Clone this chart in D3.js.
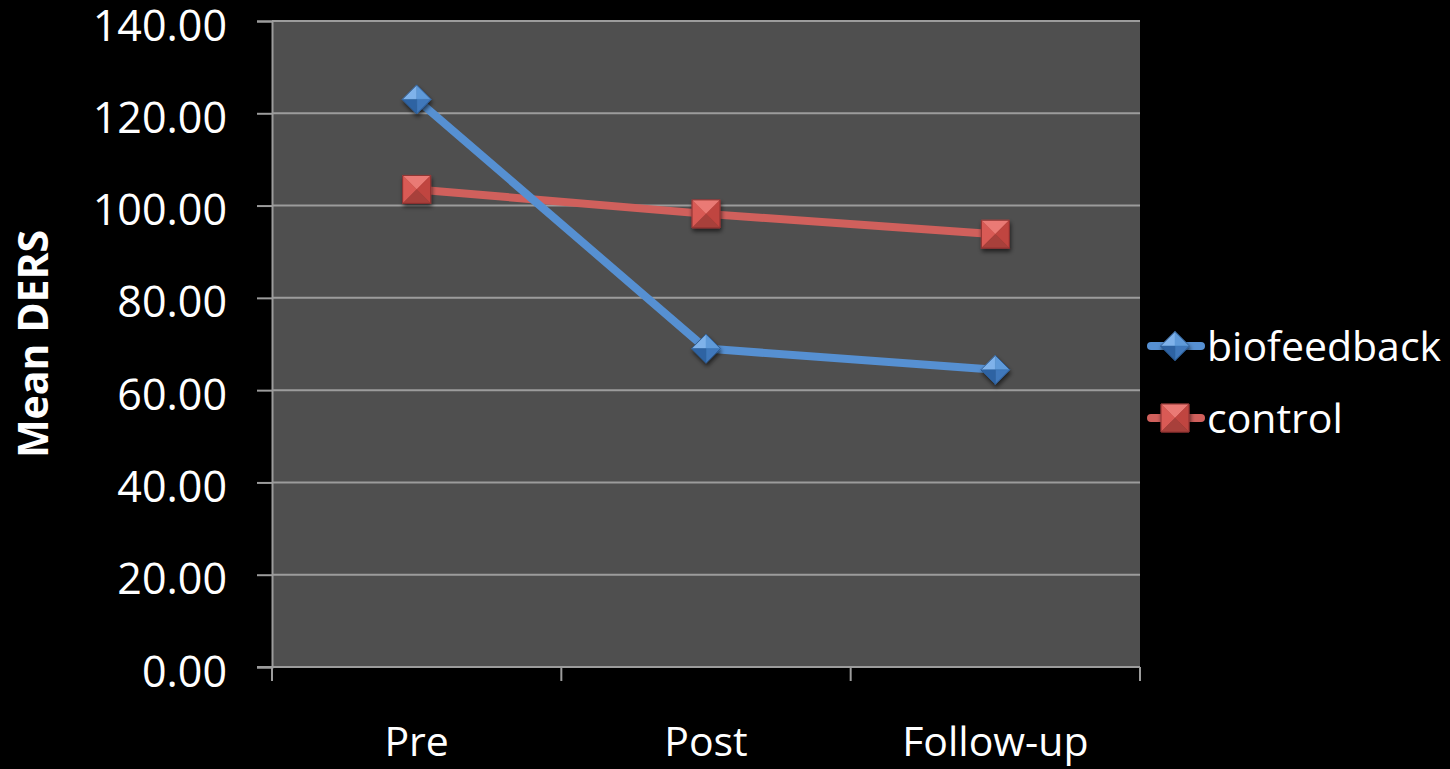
<!DOCTYPE html>
<html>
<head>
<meta charset="utf-8">
<script src="https://cdn.jsdelivr.net/npm/d3@7"></script>
<style>
  body { margin: 0; background: #000; }
  text { font-family: "Open Sans", sans-serif; fill: #fff; }
</style>
</head>
<body>
<div id="chart"></div>
<script>
// data
var categories = ["Pre", "Post", "Follow-up"];
var biofeedback = [123.0, 69.0, 64.4];
var control = [103.5, 98.2, 93.8];
var seriesNames = ["biofeedback", "control"];
var yTicks = [0, 20, 40, 60, 80, 100, 120, 140];

var width = 1450, height = 769;
var plot = {left: 272, right: 1140, top: 21, bottom: 667};

var svg = d3.select("#chart").append("svg")
	.attr("width", width)
	.attr("height", height)
	.style("background", "#000");

var defs = svg.append("defs");
var shadow = defs.append("filter").attr("id", "shadow")
	.attr("x", "-50%").attr("y", "-50%").attr("width", "200%").attr("height", "200%");
shadow.append("feDropShadow")
	.attr("dx", 1).attr("dy", 3).attr("stdDeviation", 2)
	.attr("flood-color", "#000").attr("flood-opacity", 0.6);

var xscale = d3.scalePoint().domain(categories).range([plot.left, plot.right]).padding(0.5);
var yscale = d3.scaleLinear().domain([0, 140]).range([plot.bottom, plot.top]);

svg.append("rect")
	.attr("x", plot.left).attr("y", plot.top)
	.attr("width", plot.right - plot.left)
	.attr("height", plot.bottom - plot.top)
	.style("fill", "#4f4f4f");

// gridlines
svg.append("g").selectAll("line")
	.data(yTicks.slice(1)).enter()
	.append("line")
	.attr("x1", plot.left).attr("x2", plot.right)
	.attr("y1", function(d){return yscale(d)})
	.attr("y2", function(d){return yscale(d)})
	.style("stroke", "#9c9c9c")
	.style("stroke-width", 2);

// y axis
var yAxis = d3.axisLeft(yscale)
	.tickValues(yTicks)
	.tickSize(15)
	.tickFormat(d3.format(".2f"));

var gy = svg.append("g")
	.attr("transform", "translate(" + plot.left + ",0)")
	.call(yAxis);
gy.select(".domain").style("stroke", "#9c9c9c").style("stroke-width", 2);
gy.selectAll(".tick line").style("stroke", "#9c9c9c").style("stroke-width", 2);
gy.selectAll(".tick text")
	.style("font-size", "43px")
	.style("fill", "#fff")
	.attr("dy", null)
	.attr("y", 19)
	.attr("x", -45);

// x axis, ticks on the category boundaries
var step = xscale.step();
var bounds = d3.range(categories.length + 1).map(function(i){return plot.left + i * step});
var gx = svg.append("g");
gx.append("line")
	.attr("x1", plot.left - 15).attr("x2", plot.right)
	.attr("y1", plot.bottom).attr("y2", plot.bottom)
	.style("stroke", "#9c9c9c").style("stroke-width", 2);
gx.selectAll(".btick")
	.data(bounds).enter()
	.append("line")
	.attr("class", "btick")
	.attr("x1", function(d){return d}).attr("x2", function(d){return d})
	.attr("y1", plot.bottom).attr("y2", plot.bottom + 14)
	.style("stroke", "#9c9c9c").style("stroke-width", 2);
gx.selectAll(".xlabel")
	.data(categories).enter()
	.append("text")
	.attr("class", "xlabel")
	.attr("x", function(d){return xscale(d)})
	.attr("y", 756)
	.style("text-anchor", "middle")
	.style("font-size", "41px")
	.text(function(d){return d});

svg.append("text")
	.attr("transform", "translate(48," + ((plot.top + plot.bottom) / 2) + ") rotate(-90)")
	.style("text-anchor", "middle")
	.style("font-size", "41px")
	.style("font-weight", "bold")
	.text("Mean DERS");

var styles = {
	biofeedback: {line: "#5690d2", top: "#7fb2ea", left: "#5f9ad9", right: "#3f78bb", bottom: "#2f64a3", shape: "diamond", r: 14.5},
	control: {line: "#d0605c", top: "#ea7a74", left: "#d95a54", right: "#c0443f", bottom: "#a8403b", shape: "square", r: 14}
};

// faceted marker: four triangles meeting at the centre
function facets(shape, r){
	var c = [0, 0], p;
	if(shape == "diamond"){
		p = [[0, -r], [r, 0], [0, r], [-r, 0]];
		return [
			{pts: [p[3], p[0], c], k: "top"},
			{pts: [p[0], p[1], c], k: "left"},
			{pts: [p[1], p[2], c], k: "right"},
			{pts: [p[2], p[3], c], k: "bottom"}
		];
	}
	p = [[-r, -r], [r, -r], [r, r], [-r, r]];
	return [
		{pts: [p[0], p[1], c], k: "top"},
		{pts: [p[3], p[0], c], k: "left"},
		{pts: [p[1], p[2], c], k: "right"},
		{pts: [p[2], p[3], c], k: "bottom"}
	];
}

function drawMarker(g, name){
	var st = styles[name];
	var m = g.append("g").attr("filter", "url(#shadow)");
	facets(st.shape, st.r).forEach(function(f){
		m.append("path")
			.attr("d", "M" + f.pts.join("L") + "Z")
			.style("fill", st[f.k])
			.style("stroke", st[f.k])
			.style("stroke-width", 0.5);
	});
	var outline = st.shape == "diamond"
		? [[0, -st.r], [st.r, 0], [0, st.r], [-st.r, 0]]
		: [[-st.r, -st.r], [st.r, -st.r], [st.r, st.r], [-st.r, st.r]];
	m.append("path")
		.attr("d", "M" + outline.join("L") + "Z")
		.style("fill", "none")
		.style("stroke", name == "control" ? "#8a3030" : "#2d5a90")
		.style("stroke-width", 1);
}

var seriesData = {biofeedback: biofeedback, control: control};
var line = d3.line()
	.x(function(d, i){return xscale(categories[i])})
	.y(function(d){return yscale(d)});

// draw control first so biofeedback sits on top
["control", "biofeedback"].forEach(function(name){
	var vals = seriesData[name];
	svg.append("path")
		.datum(vals)
		.attr("d", line)
		.style("fill", "none")
		.style("stroke", styles[name].line)
		.style("stroke-width", 8)
		.style("stroke-linejoin", "round");
	vals.forEach(function(v, i){
		var g = svg.append("g")
			.attr("transform", "translate(" + xscale(categories[i]) + "," + yscale(v) + ")");
		drawMarker(g, name);
	});
});

// legend
var legend = svg.append("g");
seriesNames.forEach(function(name, i){
	var y = 346 + i * 72;
	var lg = legend.append("g").attr("transform", "translate(0," + y + ")");
	lg.append("line")
		.attr("x1", 1151).attr("x2", 1201)
		.attr("y1", 0).attr("y2", 0)
		.style("stroke", styles[name].line)
		.style("stroke-width", 8)
		.style("stroke-linecap", "round");
	var mg = lg.append("g").attr("transform", "translate(1175,0)");
	drawMarker(mg, name);
	lg.append("text")
		.attr("x", 1207)
		.attr("y", 0)
		.attr("dy", "0.36em")
		.style("font-size", "41px")
		.text(name);
});
</script>
</body>
</html>
